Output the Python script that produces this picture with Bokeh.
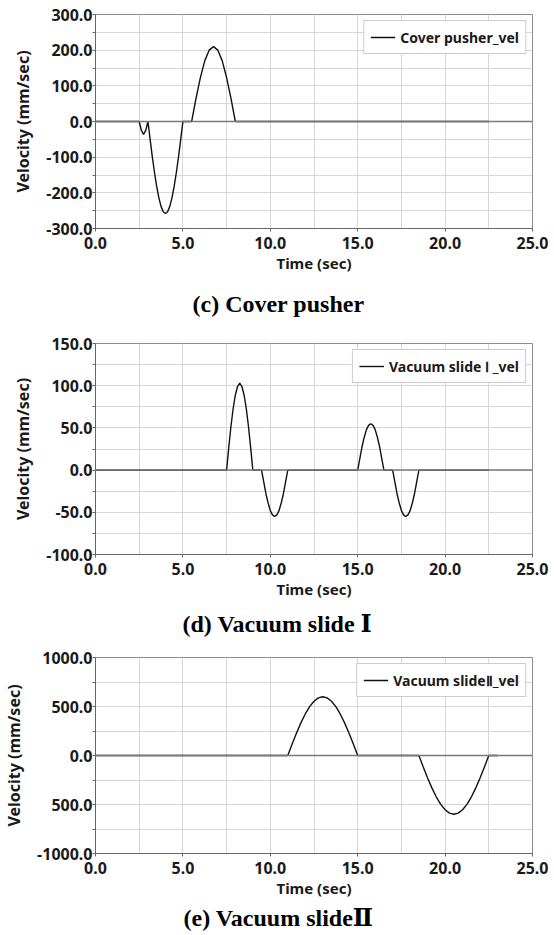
from bokeh.plotting import figure
from bokeh.layouts import column
from bokeh.models import FixedTicker, Span, Title, Range1d
from bokeh.embed import file_html
from bokeh.resources import INLINE

# ---------------- data ----------------
# (c) Cover pusher
c_time = [0.0, 2.5, 2.625, 2.75, 2.875, 3.0,
          3.125, 3.25, 3.375, 3.5, 3.625, 3.75, 3.875, 4.0,
          4.125, 4.25, 4.375, 4.5, 4.625, 4.75, 4.875, 5.0,
          5.5, 5.75, 6.0, 6.25, 6.5, 6.75,
          7.0, 7.25, 7.5, 7.75, 8.0, 22.5]
c_vel = [0, 0, -25, -36, -25, 0,
         -50, -99, -143, -182, -214, -238, -253, -258,
         -253, -238, -214, -182, -143, -99, -50, 0,
         0, 65, 123, 170, 200, 210,
         200, 170, 123, 65, 0, 0]

# (d) Vacuum slide I
d_time = [0.0,
          7.5, 7.625, 7.75, 7.875, 8.0, 8.125, 8.25, 8.375, 8.5, 8.625, 8.75, 8.875, 9.0,
          9.5, 9.625, 9.75, 9.875, 10.0, 10.125, 10.25, 10.375, 10.5, 10.625, 10.75, 10.875, 11.0,
          15.0, 15.125, 15.25, 15.375, 15.5, 15.625, 15.75, 15.875, 16.0, 16.125, 16.25, 16.375, 16.5,
          17.0, 17.125, 17.25, 17.375, 17.5, 17.625, 17.75, 17.875, 18.0, 18.125, 18.25, 18.375, 18.5,
          22.5]
d_vel = [0,
         0, 27, 52, 73, 89, 99, 103, 99, 89, 73, 52, 27, 0,
         0, -14, -28, -39, -48, -53, -55, -53, -48, -39, -28, -14, 0,
         0, 14, 28, 39, 48, 53, 55, 53, 48, 39, 28, 14, 0,
         0, -14, -28, -39, -48, -53, -55, -53, -48, -39, -28, -14, 0,
         0]

# (e) Vacuum slide II
e_time = [0.0,
          11.0, 11.25, 11.5, 11.75, 12.0, 12.25, 12.5, 12.75, 13.0,
          13.25, 13.5, 13.75, 14.0, 14.25, 14.5, 14.75, 15.0,
          18.5, 18.75, 19.0, 19.25, 19.5, 19.75, 20.0, 20.25, 20.5,
          20.75, 21.0, 21.25, 21.5, 21.75, 22.0, 22.25, 22.5,
          23.0]
e_vel = [0,
         0, 117, 230, 333, 424, 499, 554, 588, 600,
         588, 554, 499, 424, 333, 230, 117, 0,
         0, -117, -230, -333, -424, -499, -554, -588, -600,
         -588, -554, -499, -424, -333, -230, -117, 0,
         0]

x_ticks = [0, 5, 10, 15, 20, 25]
x_labels = ["0.0", "5.0", "10.0", "15.0", "20.0", "25.0"]
x_minor = [2.5, 7.5, 12.5, 17.5, 22.5]

c_yticks = [-300, -200, -100, 0, 100, 200, 300]
c_ylabels = ["-300.0", "-200.0", "-100.0", "0.0", "100.0", "200.0", "300.0"]
c_yminor = [-250, -150, -50, 50, 150, 250]

d_yticks = [-100, -50, 0, 50, 100, 150]
d_ylabels = ["-100.0", "-50.0", "0.0", "50.0", "100.0", "150.0"]
d_yminor = [-75, -25, 25, 75, 125]

e_yticks = [-1000, -500, 0, 500, 1000]
e_ylabels = ["-1000.0", "500.0", "0.0", "500.0", "1000.0"]
e_yminor = [-750, -250, 250, 750]

legend_labels = ["Cover pusher_vel", "Vacuum slide \u2160 _vel", "Vacuum slide\u2161_vel"]
captions = ["(c) Cover pusher", "(d) Vacuum slide \u2160", "(e) Vacuum slide\u2161"]
x_title = "Time (sec)"
y_title = "Velocity (mm/sec)"

SANS = "Noto Sans"
SERIF = "Liberation Serif, DejaVu Serif"
TXT = "#1a1a1a"


def make_panel(t, v, yticks, ylabels, yminor, legend, caption,
               height, top, bottom, left, right, cap_offset, cap_standoff):
    W = 554
    p = figure(width=W, height=height, output_backend="svg", toolbar_location=None,
               x_range=Range1d(0, 25), y_range=Range1d(yticks[0], yticks[-1]),
               min_border_top=top, min_border_bottom=bottom,
               min_border_left=left, min_border_right=right)
    p.background_fill_color = "white"
    p.border_fill_color = "white"
    p.outline_line_color = "#8c8c8c"
    p.outline_line_width = 1

    xt = FixedTicker(ticks=x_ticks, minor_ticks=x_minor)
    yt = FixedTicker(ticks=yticks, minor_ticks=yminor)
    p.xaxis.ticker = xt
    p.yaxis.ticker = yt
    p.xgrid.ticker = xt
    p.ygrid.ticker = yt
    for g in (p.xgrid, p.ygrid):
        g.grid_line_color = "#d6d6d6"
        g.grid_line_width = 1
        g.minor_grid_line_color = "#d6d6d6"
        g.minor_grid_line_width = 1

    p.xaxis.major_label_overrides = {k: s for k, s in zip(x_ticks, x_labels)}
    p.yaxis.major_label_overrides = {k: s for k, s in zip(yticks, ylabels)}

    for ax in (p.xaxis, p.yaxis):
        ax.axis_line_color = "#666666"
        ax.axis_line_width = 1
        ax.major_tick_line_color = "#666666"
        ax.major_tick_in = 0
        ax.major_tick_out = 3
        ax.major_label_text_font = SANS
        ax.major_label_text_font_size = "16px"
        ax.major_label_text_font_style = "bold"
        ax.major_label_text_color = TXT
        ax.axis_label_text_font = SANS
        ax.axis_label_text_font_style = "bold"
        ax.axis_label_text_color = TXT
    p.xaxis.minor_tick_line_color = None
    p.yaxis.minor_tick_line_color = "#666666"
    p.yaxis.minor_tick_in = 0
    p.yaxis.minor_tick_out = 3
    p.xaxis.major_label_standoff = 4
    p.yaxis.major_label_standoff = 0
    p.xaxis.axis_label = x_title
    p.yaxis.axis_label = y_title
    p.xaxis.axis_label_text_font_size = "15px"
    p.yaxis.axis_label_text_font_size = "16px"
    p.xaxis.axis_label_standoff = 1
    p.yaxis.axis_label_standoff = 9

    p.add_layout(Span(location=0, dimension="width", line_color="#7a7a7a", line_width=1.5))
    p.line(t, v, line_color="#111111", line_width=1.4, legend_label=legend)

    lg = p.legend[0]
    lg.location = "top_right"
    lg.margin = 6
    lg.padding = 6
    lg.spacing = 0
    lg.glyph_width = 25
    lg.glyph_height = 20
    lg.label_standoff = 5
    lg.label_text_font = SANS
    lg.label_text_font_size = "14px"
    lg.label_text_font_style = "bold"
    lg.label_text_color = TXT
    lg.border_line_color = "#9a9a9a"
    lg.border_line_width = 1
    lg.background_fill_color = "white"
    lg.background_fill_alpha = 1.0

    cap = Title(text=caption, align="left", offset=cap_offset, standoff=cap_standoff,
                text_font=SERIF, text_font_size="24px", text_font_style="bold",
                text_color="#000000")
    p.add_layout(cap, "below")
    return p


p1 = make_panel(c_time, c_vel, c_yticks, c_ylabels, c_yminor, legend_labels[0], captions[0],
                height=333, top=14, bottom=105, left=84, right=15,
                cap_offset=97, cap_standoff=26)
p2 = make_panel(d_time, d_vel, d_yticks, d_ylabels, d_yminor, legend_labels[1], captions[1],
                height=313, top=10, bottom=92, left=85, right=19,
                cap_offset=87, cap_standoff=14)
p3 = make_panel(e_time, e_vel, e_yticks, e_ylabels, e_yminor, legend_labels[2], captions[2],
                height=289, top=11, bottom=82, left=86, right=22,
                cap_offset=88, cap_standoff=4)

layout = column(p1, p2, p3, spacing=0)
open("out.html", "w").write(file_html(layout, INLINE))
